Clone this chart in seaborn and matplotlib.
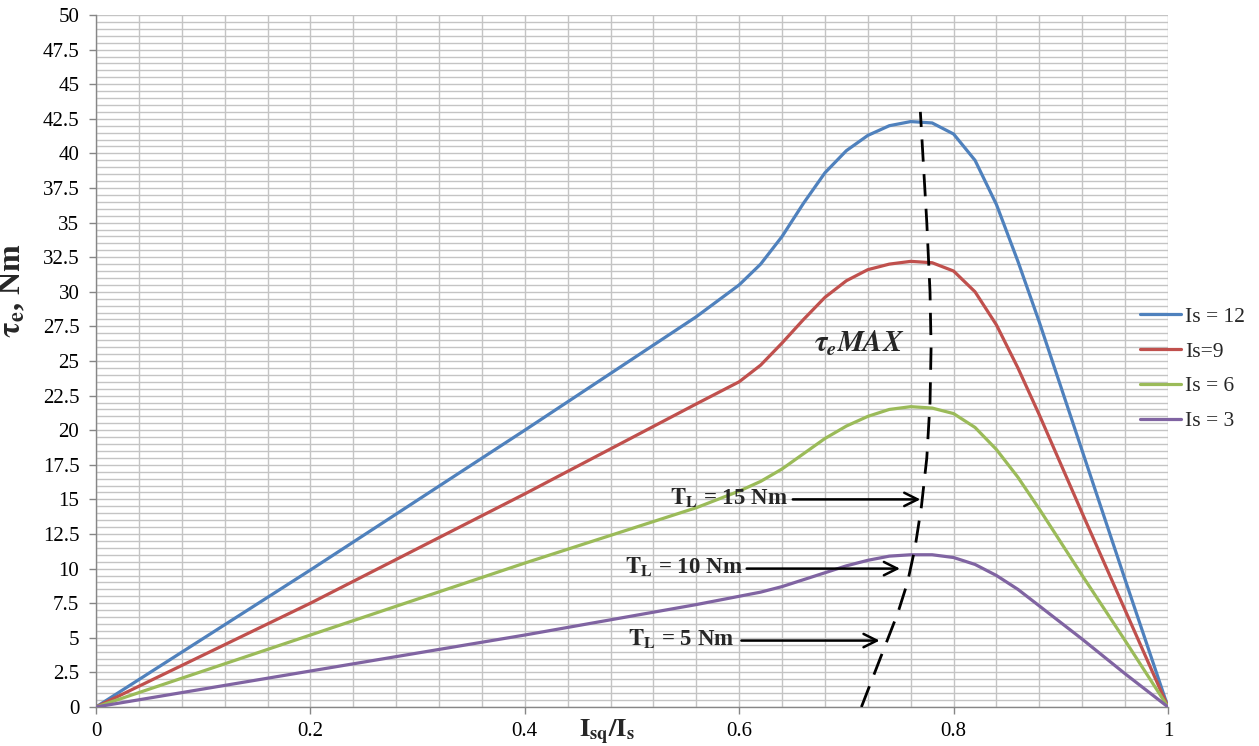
import numpy as np
import pandas as pd
import seaborn as sns
import matplotlib.pyplot as plt
from matplotlib.ticker import MultipleLocator, FuncFormatter

# valeurs
x_vals = [0, 0.2, 0.4, 0.56, 0.6, 0.62, 0.64, 0.66, 0.68, 0.70, 0.72, 0.74, 0.76,
          0.78, 0.80, 0.82, 0.84, 0.86, 0.88, 0.92, 0.96, 1.0]
is_12 = [0, 9.9, 20.0, 28.2, 30.5, 32.0, 34.0, 36.4, 38.6, 40.2, 41.3, 42.0, 42.3,
         42.2, 41.4, 39.5, 36.3, 32.2, 27.8, 18.5, 9.2, 0]
is_9 = [0, 7.5, 15.4, 21.9, 23.5, 24.7, 26.3, 28.0, 29.6, 30.8, 31.6, 32.0, 32.2,
        32.1, 31.5, 30.0, 27.6, 24.5, 21.1, 14.0, 7.0, 0]
is_6 = [0, 5.2, 10.4, 14.4, 15.6, 16.3, 17.2, 18.3, 19.4, 20.3, 21.0, 21.5, 21.7,
        21.6, 21.2, 20.2, 18.6, 16.6, 14.3, 9.5, 4.8, 0]
is_3 = [0, 2.6, 5.2, 7.4, 8.0, 8.3, 8.7, 9.2, 9.7, 10.2, 10.6, 10.9, 11.0,
        11.0, 10.8, 10.3, 9.5, 8.5, 7.3, 4.9, 2.4, 0]
series_labels = ["Is = 12", "Is=9", "Is = 6", "Is = 3"]
series_colors = ["#4F81BD", "#C0504D", "#9BBB59", "#8064A2"]

# courbe du couple max (pointillés)
tmax_x = [0.714, 0.726, 0.738, 0.748, 0.757, 0.764, 0.770, 0.775, 0.778, 0.779,
          0.778, 0.775, 0.772, 0.769]
tmax_y = [0, 2.4, 4.8, 6.8, 9.0, 11.5, 14.5, 18.0, 22.0, 26.0, 30.0, 35.0, 39.0, 43.0]

# couples de charge : (texte, y, x debut fleche, x fin fleche, x texte)
charges = [
    (r"$\mathbf{T_L}$ = 15 Nm", 15.0, 0.650, 0.769, 0.590),
    (r"$\mathbf{T_L}$ = 10 Nm", 10.0, 0.607, 0.750, 0.548),
    (r"$\mathbf{T_L}$ = 5 Nm", 4.8, 0.602, 0.731, 0.546),
]

df = pd.DataFrame({
    "x": x_vals * 4,
    "tau": is_12 + is_9 + is_6 + is_3,
    "serie": sum([[lab] * len(x_vals) for lab in series_labels], []),
})

sns.set_theme(style="white")
plt.rcParams["font.family"] = ["Liberation Serif", "DejaVu Serif"]
plt.rcParams["mathtext.fontset"] = "stix"

fig = plt.figure(figsize=(12.59, 7.46), dpi=100)
ax = fig.add_axes([96 / 1259, 1 - 707 / 746, (1168 - 96) / 1259, (707 - 15) / 746])

sns.lineplot(data=df, x="x", y="tau", hue="serie", hue_order=series_labels,
             palette=series_colors, linewidth=2.3, ax=ax, legend=True, zorder=3)

ax.plot(tmax_x, tmax_y, color="black", linewidth=2.0, dashes=(8, 4.5), zorder=4)

for txt, yv, x0, x1, xt in charges:
    ax.annotate("", xy=(x1, yv), xytext=(x0, yv),
                arrowprops=dict(arrowstyle="->", color="black", lw=1.8, mutation_scale=24,
                                shrinkA=0, shrinkB=0), zorder=5)
    ax.text(xt, yv + 0.1, txt, fontsize=16.5, fontweight="bold", ha="center", va="center",
            zorder=5)

ax.text(0.712, 26.3, r"$\mathbfit{\tau_e MAX}$", fontsize=21, ha="center", va="center")

ax.set_xlim(0, 1)
ax.set_ylim(0, 50)
ax.xaxis.set_major_locator(MultipleLocator(0.2))
ax.xaxis.set_minor_locator(MultipleLocator(0.04))
ax.yaxis.set_major_locator(MultipleLocator(2.5))
ax.yaxis.set_minor_locator(MultipleLocator(0.5))
ax.xaxis.set_major_formatter(FuncFormatter(lambda v, p: f"{v:g}"))
ax.yaxis.set_major_formatter(FuncFormatter(lambda v, p: f"{v:g}"))
ax.grid(True, which="both", color="#C4C4C4", linewidth=1.0)
ax.set_axisbelow(True)

for s in ["top", "right"]:
    ax.spines[s].set_visible(False)
for s in ["left", "bottom"]:
    ax.spines[s].set_color("#868686")
    ax.spines[s].set_linewidth(1.0)
    ax.spines[s].set_zorder(2)

ax.tick_params(axis="both", which="major", direction="out", length=5, width=1,
               color="#868686", labelsize=15, labelcolor="black")
ax.tick_params(axis="x", which="major", pad=6)
ax.tick_params(axis="y", which="major", pad=7)
ax.tick_params(which="minor", length=0)
ax.tick_params(axis="both", which="both", bottom=True, left=True)

ax.set_xlabel(r"$\mathbf{I_{sq}/I_s}$", fontsize=19)
ax.xaxis.set_label_coords(0.477, -0.016)
ax.set_ylabel(r"$\mathbf{\tau_e}$, Nm", fontsize=23, fontweight="bold")
ax.yaxis.set_label_coords(-0.064, 0.602)

handles, labels = ax.get_legend_handles_labels()
leg = ax.legend(handles, labels, loc="center left", bbox_to_anchor=(1140 / 1259, 1 - 369 / 746),
                bbox_transform=fig.transFigure, frameon=False, fontsize=15.5,
                handlelength=1.9, handletextpad=0.2, labelspacing=0.68,
                borderpad=0, borderaxespad=0)
for line in leg.get_lines():
    line.set_linewidth(2.3)

plt.savefig("out.png", dpi=100)
